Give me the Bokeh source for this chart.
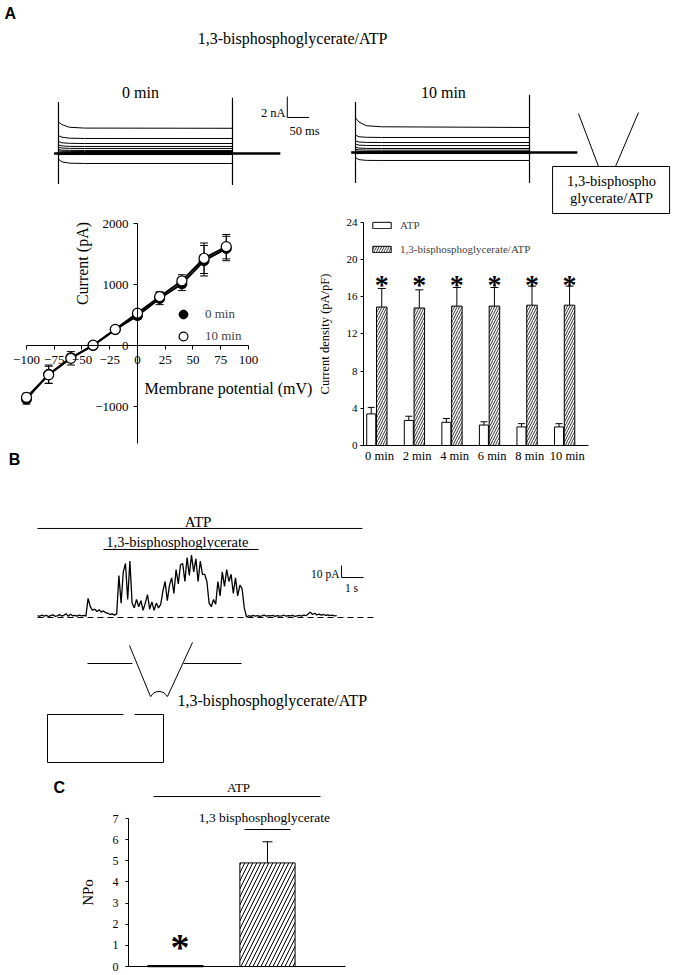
from bokeh.plotting import figure
from bokeh.models import (Range1d, Label, Whisker, TeeHead, ColumnDataSource, Legend,
                          LegendItem, FixedTicker, LinearAxis, Spacer)
from bokeh.layouts import column, row
from bokeh.embed import file_html
from bokeh.resources import INLINE
from bokeh.core.properties import value

SERIF = "Liberation Serif"
SANS = "Liberation Sans"
BLACK = "black"

# ---------------- Panel A: whole-cell current sweeps ----------------
sweep_time_ms = [0, 8, 25, 60, 400]
sweeps_0min_nA = [
    [3.0, 2.75, 2.5, 2.42, 2.4],
    [1.7, 1.55, 1.46, 1.43, 1.43],
    [1.15, 1.02, 0.97, 0.95, 0.95],
    [0.82, 0.72, 0.68, 0.67, 0.67],
    [0.6, 0.52, 0.49, 0.48, 0.48],
    [0.38, 0.32, 0.3, 0.29, 0.29],
    [0.25, 0.21, 0.2, 0.19, 0.19],
    [0.14, 0.11, 0.1, 0.1, 0.1],
    [-0.12, -0.1, -0.1, -0.1, -0.1],
    [-0.55, -0.8, -0.92, -0.95, -0.95],
]
sweeps_10min_nA = [
    [3.3, 2.9, 2.55, 2.45, 2.38],
    [1.65, 1.5, 1.45, 1.43, 1.43],
    [1.1, 1.0, 0.96, 0.95, 0.95],
    [0.8, 0.7, 0.67, 0.66, 0.66],
    [0.5, 0.42, 0.39, 0.38, 0.38],
    [0.3, 0.25, 0.23, 0.22, 0.22],
    [0.14, 0.11, 0.1, 0.1, 0.1],
    [-0.12, -0.1, -0.1, -0.1, -0.1],
    [-0.5, -0.68, -0.75, -0.76, -0.76],
]
holding_time_ms = [-10, 510]
holding_nA = [0, 0]
transient_time_ms = [0, 400]
transient_0min_top = [4.9, 5.3]
transient_0min_bottom = [-2.9, -3.0]
transient_10min_top = [4.8, 5.5]
transient_10min_bottom = [-2.9, -2.9]
scale_nA = 2
scale_ms = 50

# ---------------- Panel A: I-V relation ----------------
voltage_mV = [-100, -80, -60, -40, -20, 0, 20, 40, 60, 80]
current_0min_pA = [-880, -470, -200, 0, 260, 490, 770, 1010, 1390, 1590]
sem_0min_pA = [80, 150, 60, 20, 30, 60, 100, 110, 250, 200]
current_10min_pA = [-850, -480, -210, 5, 265, 530, 800, 1060, 1430, 1620]
sem_10min_pA = [70, 140, 110, 20, 30, 40, 80, 100, 250, 200]
iv_xticks = [-100, -75, -50, -25, 0, 25, 50, 75, 100]
iv_yticks = [-1000, 0, 1000, 2000]

# ---------------- Panel A: current density ----------------
times = ["0 min", "2 min", "4 min", "6 min", "8 min", "10 min"]
density_atp = [3.4, 2.7, 2.5, 2.2, 2.0, 2.0]
density_atp_sem = [0.7, 0.45, 0.4, 0.35, 0.35, 0.35]
density_bpg = [14.9, 14.8, 15.0, 15.0, 15.1, 15.1]
density_bpg_sem = [2.0, 1.95, 2.0, 2.0, 2.05, 2.05]
density_sig = ["*", "*", "*", "*", "*", "*"]
density_sig_level = 18
density_yticks = [0, 4, 8, 12, 16, 20, 24]

# ---------------- Panel B: single-channel recording (pA, every 0.1 s) ----------------
channel_dt_s = 0.1
channel_pA = [
    1.5, 1.0, 2.0, 1.2, 1.8, 0.8, 1.6, 2.2, 1.0, 1.4, 2.4, 1.2, 1.8, 3.2, 1.0, 2.8,
    1.4, 1.8, 1.1, 2.0, 1.3, 1.7, 1.2,
    16,
    9, 6, 7, 5, 6.5, 4.5, 5.5, 4, 3.5, 2.5, 3, 2,
    3,
    35, 12, 38, 45, 15, 47,
    12, 8, 15,
    9, 14, 6, 12, 19, 7, 13, 6, 12, 8, 11,
    22, 30, 14, 27,
    33, 20, 40, 28, 44,
    45, 30, 50, 35, 52, 38, 49, 30, 47, 36,
    36, 30,
    12, 9, 15, 11,
    30, 18, 38, 26, 40, 30,
    36, 20, 33, 18, 27,
    24, 8,
    0.5, 1.5, 1.0, 1.8, 1.2, 1.6, 0.9, 1.4, 2.0, 1.1, 1.5, 1.3, 1.8, 1.0, 1.6, 1.2,
    1.4, 1.9, 1.1, 1.5, 1.3, 1.7, 1.0, 1.4, 1.8, 1.2, 2.0, 1.5, 3.0, 4.5, 2.5, 3.5,
    2.2, 2.8, 2.0, 2.5, 1.8, 2.2, 1.5, 1.9, 1.4, 1.6,
]
channel_t_s = [i * channel_dt_s for i in range(len(channel_pA))]
closed_level_t = [0, 15.27]
atp_period_s = [0, 14.77]
bpg_period_s = [3.0, 10.05]
scale_pA = 10
scale_s = 1

# ---------------- Panel C: NPo ----------------
npo_x = [1, 2]
npo = [0.03, 4.9]
npo_sem = [0.0, 1.0]
npo_yticks = [0, 1, 2, 3, 4, 5, 6, 7]


def blank(width, height, xr, yr):
    p = figure(width=width, height=height, x_range=Range1d(*xr), y_range=Range1d(*yr),
               x_axis_type=None, y_axis_type=None, output_backend="svg",
               toolbar_location=None, min_border=0)
    p.outline_line_color = None
    p.background_fill_color = "white"
    p.border_fill_color = "white"
    return p


def label(p, x, y, text, size, font=SERIF, align="center", baseline="middle",
          bold=False, angle=0):
    p.add_layout(Label(x=x, y=y, text=text, text_font=font, text_font_size=f"{size}px",
                       text_align=align, text_baseline=baseline,
                       text_font_style="bold" if bold else "normal",
                       angle=angle, angle_units="deg", text_color=BLACK))


def style_axis(ax, size, tick_out=4):
    ax.axis_line_color = BLACK
    ax.axis_line_width = 1
    ax.major_tick_line_color = BLACK
    ax.major_tick_in = 0
    ax.major_tick_out = tick_out
    ax.minor_tick_line_color = None
    ax.major_label_text_font = SERIF
    ax.major_label_text_font_size = f"{size}px"
    ax.major_label_text_color = BLACK
    ax.axis_label_text_font = SERIF
    ax.axis_label_text_font_style = "normal"
    ax.axis_label_text_color = BLACK


# ---------------- header (page pixel frame) ----------------
header = blank(672, 80, (0, 672), (80, 0))
label(header, 4, 13, "A", 16, font=SANS, align="left", bold=True)
label(header, 292, 38, "1,3-bisphosphoglycerate/ATP", 16)


# ---------------- sweeps ----------------
def sweep_panel(width, xr, yr, sweeps, tr_top, tr_bottom, caption, caption_xy):
    p = blank(width, 135, xr, yr)
    p.multi_line(xs=[sweep_time_ms] * len(sweeps), ys=sweeps, line_color=BLACK, line_width=1)
    p.line(holding_time_ms, holding_nA, line_color=BLACK, line_width=2.5)
    p.segment(x0=transient_time_ms, y0=tr_bottom, x1=transient_time_ms, y1=tr_top,
              line_color=BLACK, line_width=1.2)
    label(p, caption_xy[0], caption_xy[1], caption, 16)
    return p


tr0 = sweep_panel(337, (-114.9, 659.8), (-5.905, 6.952), sweeps_0min_nA,
                  transient_0min_top, transient_0min_bottom, "0 min", (188.5, 5.81))
sb_x, sb_y = 526, 3.43
tr0.line([sb_x, sb_x, sb_x + scale_ms], [sb_y + scale_nA, sb_y, sb_y], line_color=BLACK, line_width=1)
label(tr0, 522, 3.9, f"{scale_nA} nA", 12.5, align="right")
label(tr0, 531, 2.19, f"{scale_ms} ms", 12.5, align="left")

tr10 = sweep_panel(327, (-23, 728.7), (-6.0, 6.857), sweeps_10min_nA,
                   transient_10min_top, transient_10min_bottom, "10 min", (202, 5.71))
tr10.segment(x0=[512.6, 650.6], y0=[3.71, 3.81], x1=[558.6, 597.7], y1=[-1.33, -1.33],
             line_color=BLACK, line_width=1)
tr10.quad(left=[453], right=[722], top=[-1.33], bottom=[-5.81], fill_color=None,
          line_color=BLACK, line_width=1)
label(tr10, 588.5, -2.67, "1,3-bisphospho", 14.5)
label(tr10, 588.5, -4.29, "glycerate/ATP", 14.5)

# ---------------- I-V ----------------
iv = blank(310, 253, (-116.2, 163.1), (-2016, 2131))
ivx = LinearAxis(fixed_location=0, bounds=(-100, 100), ticker=FixedTicker(ticks=iv_xticks))
style_axis(ivx, 13)
ivx.major_label_standoff = 6
iv.add_layout(ivx, "below")
ivy = LinearAxis(fixed_location=0, bounds=(-1600, 2000), ticker=FixedTicker(ticks=iv_yticks))
style_axis(ivy, 13)
ivy.major_label_standoff = 5
iv.add_layout(ivy, "left")

src0 = ColumnDataSource(dict(v=voltage_mV, i=current_0min_pA,
                             lo=[a - b for a, b in zip(current_0min_pA, sem_0min_pA)],
                             hi=[a + b for a, b in zip(current_0min_pA, sem_0min_pA)]))
src10 = ColumnDataSource(dict(v=voltage_mV, i=current_10min_pA,
                              lo=[a - b for a, b in zip(current_10min_pA, sem_10min_pA)],
                              hi=[a + b for a, b in zip(current_10min_pA, sem_10min_pA)]))
for s in (src0, src10):
    iv.add_layout(Whisker(base="v", lower="lo", upper="hi", source=s, dimension="height",
                          line_color=BLACK, line_width=1,
                          upper_head=TeeHead(size=8, line_color=BLACK, line_width=1),
                          lower_head=TeeHead(size=8, line_color=BLACK, line_width=1)))
iv.line("v", "i", source=src0, line_color=BLACK, line_width=2)
iv.line("v", "i", source=src10, line_color=BLACK, line_width=2)
r0 = iv.scatter("v", "i", source=src0, size=10, fill_color=BLACK, line_color=BLACK)
r10 = iv.scatter("v", "i", source=src10, size=10, fill_color="white", line_color=BLACK,
                 line_width=1.2)
iv_leg = Legend(items=[LegendItem(label="0 min", renderers=[r0]),
                       LegendItem(label="10 min", renderers=[r10])],
                location=(164, 121), glyph_width=22, glyph_height=22, label_height=22,
                spacing=0, padding=0, margin=0, label_standoff=11,
                label_text_font=SERIF, label_text_font_size="13px",
                background_fill_alpha=0, border_line_alpha=0)
iv.add_layout(iv_leg)
label(iv, -49.5, 1344, "Current (pA)", 16, angle=90)
label(iv, 6.3, -705, "Membrane potential (mV)", 16, align="left")
label(iv, -116, -1869, "B", 16, font=SANS, align="left", bold=True)

# ---------------- current density bars ----------------
bars = blank(354, 253, (-1.624, 7.801), (-2.475, 24.75))
bx = LinearAxis(fixed_location=0, bounds=(-0.506, 5.565),
                ticker=FixedTicker(ticks=list(range(len(times)))),
                major_label_overrides={i: t for i, t in enumerate(times)})
style_axis(bx, 12.5, tick_out=0)
bx.major_label_standoff = 3
bars.add_layout(bx, "below")
by = LinearAxis(fixed_location=-0.426, bounds=(0, 24), ticker=FixedTicker(ticks=density_yticks),
                axis_label="Current density (pA/pF)")
style_axis(by, 11, tick_out=3)
by.major_label_standoff = 3
by.axis_label_text_font_size = "12.5px"
by.axis_label_standoff = 12
bars.add_layout(by, "left")

x_atp = [i - 0.22 for i in range(len(times))]
x_bpg = [i + 0.06 for i in range(len(times))]
r_atp = bars.vbar(x=x_atp, top=density_atp, width=0.24, bottom=0, fill_color="white",
                  line_color=BLACK, line_width=1)
r_bpg = bars.vbar(x=x_bpg, top=density_bpg, width=0.28, bottom=0, fill_color="white",
                  line_color=BLACK, line_width=1, hatch_pattern="/", hatch_color=BLACK,
                  hatch_scale=5, hatch_weight=0.8)
bars.add_layout(Whisker(base="x", lower="lo", upper="hi",
                        source=ColumnDataSource(dict(x=x_atp, lo=density_atp,
                                                     hi=[a + b for a, b in zip(density_atp, density_atp_sem)])),
                        line_color=BLACK, line_width=1, lower_head=None,
                        upper_head=TeeHead(size=7, line_color=BLACK, line_width=1)))
bars.add_layout(Whisker(base="x", lower="lo", upper="hi",
                        source=ColumnDataSource(dict(x=x_bpg, lo=density_bpg,
                                                     hi=[a + b for a, b in zip(density_bpg, density_bpg_sem)])),
                        line_color=BLACK, line_width=1, lower_head=None,
                        upper_head=TeeHead(size=8, line_color=BLACK, line_width=1)))
bars.text(x=x_bpg, y=[density_sig_level] * len(times), text=density_sig,
          text_font=value(SERIF), text_font_size="28px", text_font_style="bold",
          text_align="center", text_baseline="middle", y_offset=6, text_color=BLACK)
bars_leg = Legend(items=[LegendItem(label="ATP", renderers=[r_atp]),
                         LegendItem(label="1,3-bisphosphoglycerate/ATP", renderers=[r_bpg])],
                  location=(52, 212), glyph_width=23, glyph_height=8, label_height=14,
                  spacing=10, padding=0, margin=0, label_standoff=7,
                  label_text_font=SERIF, label_text_font_size="11px",
                  background_fill_alpha=0, border_line_alpha=0)
bars.add_layout(bars_leg)

# ---------------- Panel B ----------------
pb = blank(664, 302, (-1.318, 28.864), (-127.5, 124.17))
pb.line(closed_level_t, [0, 0], line_color=BLACK, line_width=1, line_dash="6 4")
pb.line(channel_t_s, channel_pA, line_color=BLACK, line_width=1.3)
pb.line(atp_period_s, [74.2, 74.2], line_color=BLACK, line_width=1)
pb.line(bpg_period_s, [56.7, 56.7], line_color=BLACK, line_width=1)
label(pb, 7.3, 79.2, "ATP", 15)
label(pb, 6.36, 63.3, "1,3-bisphosphoglycerate", 14.5)
sbx, sby = 13.82, 33.3
pb.line([sbx, sbx, sbx + scale_s], [sby + scale_pA, sby, sby], line_color=BLACK, line_width=1)
label(pb, 13.73, 36.5, f"{scale_pA} pA", 11.5, align="right")
label(pb, 14.27, 24.2, f"{scale_s} s", 11.5)
# patch-clamp schematic
pb.segment(x0=[2.273, 6.636, 4.182, 7.045], y0=[-38.33, -38.33, -23.33, -20.83],
           x1=[4.318, 9.273, 5.136, 5.909], y1=[-38.33, -38.33, -65.83, -65.83],
           line_color=BLACK, line_width=1)
pb.arc(x=[5.523], y=[-69.17], radius=9, radius_units="screen", start_angle=25,
       end_angle=155, start_angle_units="deg", end_angle_units="deg",
       line_color=BLACK, line_width=1)
pb.multi_line(xs=[[3.909, 0.4545, 0.4545, 5.727, 5.727, 4.409]],
              ys=[[-80.83, -80.83, -120.83, -120.83, -80.83, -80.83]],
              line_color=BLACK, line_width=1)
label(pb, 6.364, -69.17, "1,3-bisphosphoglycerate/ATP", 16, align="left")

# ---------------- Panel C ----------------
pc = blank(400, 203, (-0.815, 3.533), (-0.331, 9.272))
cx = LinearAxis(fixed_location=0, bounds=(0.489, 2.848), ticker=FixedTicker(ticks=[]))
style_axis(cx, 12, tick_out=0)
pc.add_layout(cx, "below")
cy = LinearAxis(fixed_location=0.489, bounds=(0, 7), ticker=FixedTicker(ticks=npo_yticks),
                axis_label="NPo")
style_axis(cy, 12, tick_out=3)
cy.major_label_standoff = 7
cy.axis_label_text_font_size = "15px"
cy.axis_label_standoff = 14
pc.add_layout(cy, "left")
pc.vbar(x=npo_x[:1], top=npo[:1], width=0.6, bottom=0, fill_color="white",
        line_color=BLACK, line_width=1.5)
pc.vbar(x=npo_x[1:], top=npo[1:], width=0.6, bottom=0, fill_color="white",
        line_color=BLACK, line_width=1, hatch_pattern="/", hatch_color=BLACK,
        hatch_scale=8, hatch_weight=1)
pc.add_layout(Whisker(base="x", lower="lo", upper="hi",
                      source=ColumnDataSource(dict(x=npo_x[1:], lo=npo[1:],
                                                   hi=[a + b for a, b in zip(npo[1:], npo_sem[1:])])),
                      line_color=BLACK, line_width=1, lower_head=None,
                      upper_head=TeeHead(size=10, line_color=BLACK, line_width=1)))
pc.text(x=[1.05], y=[1.32], text=["*"], text_font=value(SERIF), text_font_size="38px",
        text_font_style="bold", text_align="center", text_baseline="middle", y_offset=8,
        text_color=BLACK)
pc.line([0.761, 2.576], [8.04, 8.04], line_color=BLACK, line_width=1)
pc.line([1.75, 2.25], [6.48, 6.48], line_color=BLACK, line_width=1)
label(pc, 1.685, 8.47, "ATP", 13)
label(pc, 1.967, 7.05, "1,3 bisphosphoglycerate", 13.5)
label(pc, -0.326, 8.47, "C", 16, font=SANS, align="left", bold=True)

content = column(row(tr0, tr10), row(iv, bars), pb, pc)
layout = column(header, row(Spacer(width=8), content))
open("out.html", "w").write(file_html(layout, INLINE))
